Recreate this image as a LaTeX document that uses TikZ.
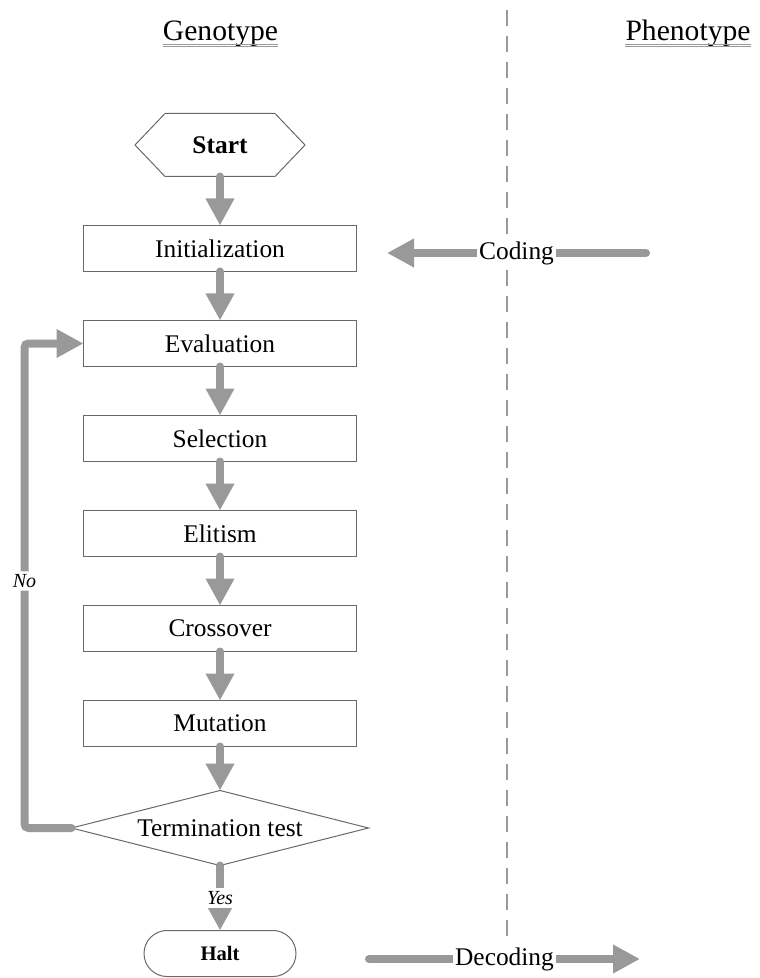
\documentclass[tikz,border=0pt]{standalone}
\usepackage{fontspec}
\setmainfont{Liberation Serif}
\usetikzlibrary{positioning, arrows.meta, shapes.geometric}

\definecolor{flowgray}{RGB}{153,153,153}
\definecolor{framegray}{RGB}{105,105,105}

\begin{document}
\begin{tikzpicture}[
        x=0.5pt, y=-0.5pt,
        font=\fontsize{12.7pt}{15pt}\selectfont,
        node distance=24.5pt,
        stepbox/.style={
            draw=framegray,
            line width=0.5pt,
            fill=white,
            minimum width=136.5pt,
            minimum height=23pt,
            inner sep=0pt,
            outer sep=0pt,
            align=center
        },
        startnode/.style={
            minimum width=85pt,
            minimum height=31.5pt,
            inner sep=0pt,
            outer sep=0pt,
            font=\fontsize{12.7pt}{15pt}\selectfont\bfseries
        },
        testnode/.style={
            diamond,
            aspect=4,
            draw=framegray,
            line width=0.5pt,
            fill=white,
            minimum width=148.5pt,
            minimum height=37.5pt,
            inner sep=0pt,
            outer sep=0pt
        },
        haltnode/.style={
            draw=framegray,
            line width=0.5pt,
            fill=white,
            rounded corners=11.5pt,
            minimum width=76pt,
            minimum height=23pt,
            inner sep=0pt,
            outer sep=0pt,
            font=\fontsize{10.3pt}{12pt}\selectfont\bfseries
        },
        sidetitle/.style={
            inner sep=0pt,
            anchor=base,
            font=\fontsize{14.8pt}{17pt}\selectfont
        },
        uline/.style={draw=flowgray, line width=0.6pt},
        divider/.style={draw=flowgray, line width=1pt, dash pattern=on 8pt off 5pt},
        flow/.style={
            draw=flowgray,
            line width=4pt,
            line cap=round,
            -{Triangle[length=13.5pt, width=13.5pt]}
        },
        flowlabel/.style={
            fill=white,
            inner sep=1.5pt,
            font=\fontsize{10pt}{12pt}\selectfont\itshape
        },
        sidelabel/.style={fill=white, inner sep=1pt}
    ]

    \useasboundingbox (0,0) rectangle (759,978);

    \node[sidetitle] (geno) at (220.5,41) {Genotype};
    \node[sidetitle] (pheno) at (688,41) {Phenotype};

    \draw[uline] ([yshift=-1.6pt]geno.base west) -- ([yshift=-1.6pt]geno.base east);
    \draw[uline] ([yshift=-2.9pt]geno.base west) -- ([yshift=-2.9pt]geno.base east);
    \draw[uline] ([yshift=-1.6pt]pheno.base west) -- ([yshift=-1.6pt]pheno.base east);
    \draw[uline] ([yshift=-2.9pt]pheno.base west) -- ([yshift=-2.9pt]pheno.base east);

    \coordinate (divtop) at (507,10);
    \coordinate (divbot) at (507,937);
    \draw[divider] (divtop) -- (divbot);

    \node[startnode] (start) at (220,145) {Start};
    \draw[draw=framegray, line width=0.5pt, fill=white]
        (start.west) -- ([xshift=15pt]start.north west) -- ([xshift=-15pt]start.north east)
        -- (start.east) -- ([xshift=-15pt]start.south east) -- ([xshift=15pt]start.south west) -- cycle;
    \node[startnode] at (start) {Start};

    \node[stepbox, below=of start] (init) {Initialization};
    \node[stepbox, below=of init] (eval) {Evaluation};
    \node[stepbox, below=of eval] (sel) {Selection};
    \node[stepbox, below=of sel] (elit) {Elitism};
    \node[stepbox, below=of elit] (cross) {Crossover};
    \node[stepbox, below=of cross] (mut) {Mutation};

    \node[testnode, below=22pt of mut] (test) {Termination test};

    \node[haltnode, below=32.5pt of test] (halt) {Halt};

    \draw[flow] (start) -- (init);
    \draw[flow] (init)  -- (eval);
    \draw[flow] (eval)  -- (sel);
    \draw[flow] (sel)   -- (elit);
    \draw[flow] (elit)  -- (cross);
    \draw[flow] (cross) -- (mut);
    \draw[flow] (mut)   -- (test);
    \draw[flow] (test)  -- node[flowlabel] {Yes} (halt);
    \draw[flow, rounded corners=2pt] (test.west) -- ++(-47,0) |- node[flowlabel, pos=0.255] {No} (eval.west);

    \coordinate (codesrc) at (646,253);
    \coordinate (codedst) at (387,253);
    \draw[flow] (codesrc) -- node[sidelabel] {Coding} (codedst);

    \coordinate (decsrc) at (369,959);
    \coordinate (decdst) at (640,959);
    \draw[flow] (decsrc) -- node[sidelabel] {Decoding} (decdst);

    \end{tikzpicture}
\end{document}
